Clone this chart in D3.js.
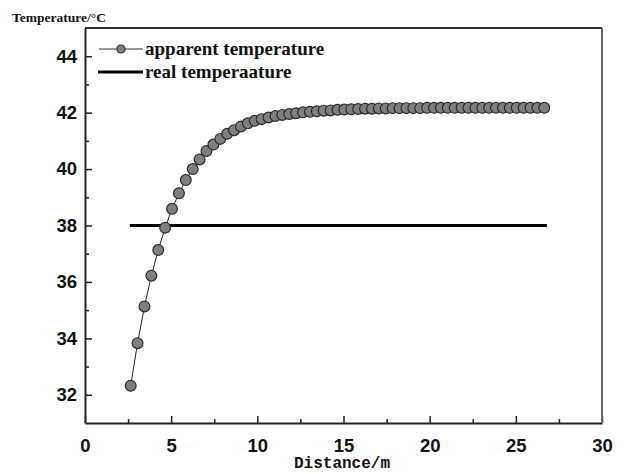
<!DOCTYPE html>
<html>
<head>
<meta charset="utf-8">
<script src="https://d3js.org/d3.v7.min.js"></script>
<style>
  body { margin: 0; background: #fff; }
  svg { display: block; }
</style>
</head>
<body>
<svg id="chart"></svg>
<script>
// distance of each reading (m), step 0.4 starting at 2.65
const distances = [
  2.65, 3.05, 3.45, 3.85, 4.25, 4.65, 5.05, 5.45, 5.85, 6.25,
  6.65, 7.05, 7.45, 7.85, 8.25, 8.65, 9.05, 9.45, 9.85, 10.25,
  10.65, 11.05, 11.45, 11.85, 12.25, 12.65, 13.05, 13.45, 13.85, 14.25,
  14.65, 15.05, 15.45, 15.85, 16.25, 16.65, 17.05, 17.45, 17.85, 18.25,
  18.65, 19.05, 19.45, 19.85, 20.25, 20.65, 21.05, 21.45, 21.85, 22.25,
  22.65, 23.05, 23.45, 23.85, 24.25, 24.65, 25.05, 25.45, 25.85, 26.25,
  26.65
];
// apparent temperature
const apparentTemps = [
  32.32, 33.83, 35.13, 36.22, 37.13, 37.92, 38.59, 39.14, 39.61, 40.00,
  40.34, 40.64, 40.87, 41.07, 41.25, 41.38, 41.51, 41.62, 41.71, 41.77,
  41.83, 41.88, 41.92, 41.95, 41.98, 42.01, 42.03, 42.05, 42.07, 42.08,
  42.10, 42.11, 42.12, 42.13, 42.14, 42.14, 42.15, 42.15, 42.16, 42.16,
  42.16, 42.16, 42.16, 42.17, 42.17, 42.17, 42.17, 42.17, 42.17, 42.17,
  42.17, 42.17, 42.17, 42.17, 42.17, 42.17, 42.17, 42.17, 42.17, 42.17,
  42.17
];
// real temperature: flat line
const realTemp = [{ d: 2.6, t: 38 }, { d: 26.8, t: 38 }];

const xTicks = [0, 5, 10, 15, 20, 25, 30];
const yTicks = [32, 34, 36, 38, 40, 42, 44];
const legendLabels = ["apparent temperature", "real temperaature"];

const width = 624, height = 474;
const svg = d3.select("#chart").attr("width", width).attr("height", height);

// scales (pixel box of the plot frame)
const x = d3.scaleLinear().domain([0, 30]).range([85, 602]);
const y = d3.scaleLinear().domain([31, 45]).range([423, 28]);

const tickFont = "Liberation Sans, Arial, sans-serif";
const serif = "Liberation Serif, Times New Roman, serif";

// minor ticks
const xMinor = d3.range(2.5, 30, 5);
const yMinor = d3.range(33, 45, 2);

// x axis, ticks inward
const xAxis = svg.append("g")
  .attr("transform", `translate(0, ${y(31)})`)
  .call(d3.axisBottom(x).tickValues(xTicks).tickSizeInner(-7).tickSizeOuter(0).tickPadding(16));
xAxis.select(".domain").attr("stroke", "#222").attr("stroke-width", 2);
xAxis.selectAll(".tick line").attr("stroke", "#222").attr("stroke-width", 1.5);
xAxis.selectAll("text")
  .attr("font-family", tickFont).attr("font-weight", "bold")
  .attr("font-size", 18.5).attr("fill", "#111");

svg.append("g")
  .attr("transform", `translate(0, ${y(31)})`)
  .call(d3.axisBottom(x).tickValues(xMinor).tickSizeInner(-4).tickSizeOuter(0).tickFormat(""))
  .call((g) => g.select(".domain").remove())
  .selectAll("line").attr("stroke", "#222").attr("stroke-width", 1.5);

// y axis
const yAxis = svg.append("g")
  .attr("transform", `translate(${x(0)}, 0)`)
  .call(d3.axisLeft(y).tickValues(yTicks).tickSizeInner(-7).tickSizeOuter(0).tickPadding(8));
yAxis.select(".domain").attr("stroke", "#222").attr("stroke-width", 2);
yAxis.selectAll(".tick line").attr("stroke", "#222").attr("stroke-width", 1.5);
yAxis.selectAll("text")
  .attr("font-family", tickFont).attr("font-weight", "bold")
  .attr("font-size", 18.5).attr("fill", "#111");

svg.append("g")
  .attr("transform", `translate(${x(0)}, 0)`)
  .call(d3.axisLeft(y).tickValues(yMinor).tickSizeInner(-4).tickSizeOuter(0).tickFormat(""))
  .call((g) => g.select(".domain").remove())
  .selectAll("line").attr("stroke", "#222").attr("stroke-width", 1.5);

// top and right frame
svg.append("line")
  .attr("x1", x(0)).attr("x2", x(30)).attr("y1", y(45)).attr("y2", y(45))
  .attr("stroke", "#333").attr("stroke-width", 2);
svg.append("line")
  .attr("x1", x(30)).attr("x2", x(30)).attr("y1", y(45)).attr("y2", y(31))
  .attr("stroke", "#666").attr("stroke-width", 2);

// real temperature line
svg.append("path")
  .datum(realTemp)
  .attr("fill", "none")
  .attr("stroke", "#000")
  .attr("stroke-width", 3)
  .attr("d", d3.line().x((d) => x(d.d)).y((d) => y(d.t)));

// apparent temperature line + markers
const apparent = distances.map((d, i) => ({ d: d, t: apparentTemps[i] }));
svg.append("path")
  .datum(apparent)
  .attr("fill", "none")
  .attr("stroke", "#222")
  .attr("stroke-width", 1)
  .attr("d", d3.line().x((d) => x(d.d)).y((d) => y(d.t)));

svg.selectAll(".dot")
  .data(apparent)
  .enter()
  .append("circle")
  .attr("class", "dot")
  .attr("cx", (d) => x(d.d))
  .attr("cy", (d) => y(d.t))
  .attr("r", 5.4)
  .attr("fill", "#7f7f7f")
  .attr("stroke", "#2a2a2a")
  .attr("stroke-width", 1.2);

// legend
const legend = svg.append("g");
legend.append("line")
  .attr("x1", 99).attr("x2", 143).attr("y1", 49).attr("y2", 49)
  .attr("stroke", "#777").attr("stroke-width", 1.5);
legend.append("circle")
  .attr("cx", 121).attr("cy", 49).attr("r", 4)
  .attr("fill", "#7f7f7f").attr("stroke", "#2a2a2a").attr("stroke-width", 1.2);
legend.append("line")
  .attr("x1", 98).attr("x2", 143).attr("y1", 72).attr("y2", 72)
  .attr("stroke", "#000").attr("stroke-width", 3);
legend.selectAll("text")
  .data(legendLabels)
  .enter()
  .append("text")
  .attr("x", 145)
  .attr("y", (d, i) => 55 + i * 23)
  .attr("font-family", serif)
  .attr("font-weight", "bold")
  .attr("font-size", 19)
  .attr("fill", "#111")
  .text((d) => d);

// axis titles
svg.append("text")
  .attr("x", 12).attr("y", 22)
  .attr("font-family", serif).attr("font-weight", "bold")
  .attr("font-size", 13.5).attr("fill", "#111")
  .text("Temperature/°C");

svg.append("text")
  .attr("x", 342).attr("y", 468)
  .attr("text-anchor", "middle")
  .attr("font-family", "Liberation Mono, Courier New, monospace")
  .attr("font-weight", "bold")
  .attr("font-size", 16).attr("fill", "#111")
  .text("Distance/m");
</script>
</body>
</html>
